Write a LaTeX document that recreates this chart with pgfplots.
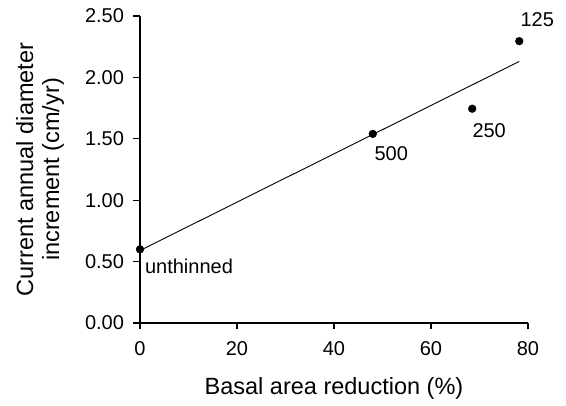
\documentclass[border=0pt]{standalone}
\usepackage{fontspec}
\setmainfont{Liberation Sans}
\usepackage{pgfplots}
\pgfplotsset{compat=1.18}

\begin{document}
\begin{tikzpicture}
\begin{axis}[
  name=ax,
  scale only axis, width=388pt, height=307pt,
  xmin=0, xmax=80, ymin=0, ymax=2.5,
  axis lines*=left,
  axis line style={line width=1.3pt},
  tick align=outside, major tick length=6.5pt,
  tick style={line width=1.1pt, black},
  xtick={0,20,40,60,80}, ytick={0,0.5,1,1.5,2,2.5},
  /pgf/number format/assume math mode=true,
  yticklabel style={xshift=-6pt, /pgf/number format/fixed,
    /pgf/number format/fixed zerofill, /pgf/number format/precision=2},
  every tick label/.append style={font=\fontsize{20}{24}\selectfont},
  xticklabel style={yshift=-9pt},
  xlabel={Basal area reduction (\%)},
  ylabel={Current annual diameter\\increment (cm/yr)},
  every axis label/.append style={font=\fontsize{23.5}{26}\selectfont},
  xlabel style={at={(axis description cs:0.5,0)}, anchor=center, yshift=-65pt},
  ylabel style={at={(axis description cs:0,0.5)}, anchor=center, yshift=100pt, align=center},
  clip=false,
]
  % fitted line
  \addplot[black, line width=0.9pt] coordinates {(0,0.59) (78.2,2.13)};
  % observed means
  \addplot[only marks, mark=*, mark size=3.9pt, black] coordinates {
    (0,0.60) (48,1.54) (68.5,1.745) (78.2,2.295)
  };
  \begin{scope}[every node/.style={font=\fontsize{20}{24}\selectfont, inner sep=0pt}]
    \node[anchor=center] at (axis cs:81.9,2.467) {125};
    \node[anchor=center] at (axis cs:72.0,1.563) {250};
    \node[anchor=center] at (axis cs:51.8,1.376) {500};
    \node[anchor=west] at (axis cs:1.0,0.46) {unthinned};
  \end{scope}
\end{axis}
\path[use as bounding box] (ax.south west) ++(-140pt,-83pt) rectangle ++(566pt,406pt);
\end{tikzpicture}
\end{document}
